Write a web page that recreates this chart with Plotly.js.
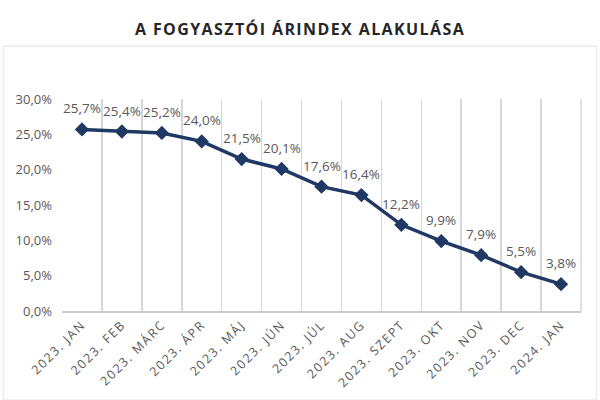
<!DOCTYPE html>
<html>
<head>
<meta charset="utf-8">
<script src="https://cdn.plot.ly/plotly-3.0.1.min.js"></script>
<style>
  html, body { margin: 0; padding: 0; background: #fff; }
  #chart { width: 600px; height: 400px; }
  /* the original uses spaced-out capitals */
  #chart .xtick text { letter-spacing: 1.6px; }
  #chart .gtitle { letter-spacing: 1.4px; }
</style>
</head>
<body>
<div id="chart"></div>
<script>
'use strict';

// inflation by month
var months = ['2023. JAN', '2023. FEB', '2023. MÁRC', '2023. ÁPR', '2023. MÁJ', '2023. JÚN',
              '2023. JÚL', '2023. AUG', '2023. SZEPT', '2023. OKT', '2023. NOV', '2023. DEC', '2024. JAN'];
var inflation = [25.7, 25.4, 25.2, 24.0, 21.5, 20.1, 17.6, 16.4, 12.2, 9.9, 7.9, 5.5, 3.8];
var yTicks = [0, 5, 10, 15, 20, 25, 30];

function pct(v) {
    return v.toFixed(1).replace('.', ',') + '%';
}

var trace = {
    x: months,
    y: inflation,
    type: 'scatter',
    mode: 'lines+markers',
    line: { color: '#203864', width: 3.5 },
    marker: { symbol: 'diamond', size: 11, color: '#203864' },
    cliponaxis: false,
    hoverinfo: 'skip'
};

// data labels sit well above the markers
var labels = months.map(function(m, i) {
    return {
        x: m, y: inflation[i], xref: 'x', yref: 'y',
        text: pct(inflation[i]),
        showarrow: false,
        yshift: 21,
        font: { family: 'Open Sans, sans-serif', size: 13.5, color: '#595959' }
    };
});

var layout = {
    width: 600,
    height: 400,
    margin: { l: 62, r: 19, t: 99, b: 89 },
    paper_bgcolor: '#fff',
    plot_bgcolor: '#fff',
    showlegend: false,
    title: {
        text: '<b>A FOGYASZTÓI ÁRINDEX ALAKULÁSA</b>',
        font: { family: 'Open Sans, sans-serif', size: 16, color: '#262626' },
        x: 0.5,
        xref: 'container',
        y: 0.94,
        yref: 'container'
    },
    xaxis: {
        type: 'category',
        tickson: 'boundaries',
        showgrid: true,
        gridcolor: '#d6d6d6',
        gridwidth: 1.5,
        showline: true,
        linecolor: '#cccccc',
        linewidth: 1.5,
        ticks: '',
        tickangle: -45,
        tickfont: { family: 'Open Sans, sans-serif', size: 12.5, color: '#595959' },
        range: [-0.5, 12.5],
        fixedrange: true
    },
    yaxis: {
        range: [0, 30],
        tickmode: 'array',
        tickvals: yTicks,
        ticktext: yTicks.map(pct),
        ticklabelstandoff: 9,
        showgrid: false,
        zeroline: false,
        showline: false,
        ticks: '',
        tickfont: { family: 'Open Sans, sans-serif', size: 13, color: '#595959' },
        fixedrange: true
    },
    annotations: labels,
    shapes: [
        // faint frame round the chart box
        { type: 'rect', xref: 'paper', yref: 'paper', x0: -0.113, x1: 1.03, y0: -0.42, y1: 1.25,
          line: { color: '#ececec', width: 1.5 } },
        // right border of the plot area
        { type: 'line', xref: 'paper', yref: 'paper', x0: 1, x1: 1, y0: 0, y1: 1,
          line: { color: '#d6d6d6', width: 1.5 } }
    ]
};

Plotly.newPlot('chart', [trace], layout, { displayModeBar: false, staticPlot: true });
</script>
</body>
</html>
